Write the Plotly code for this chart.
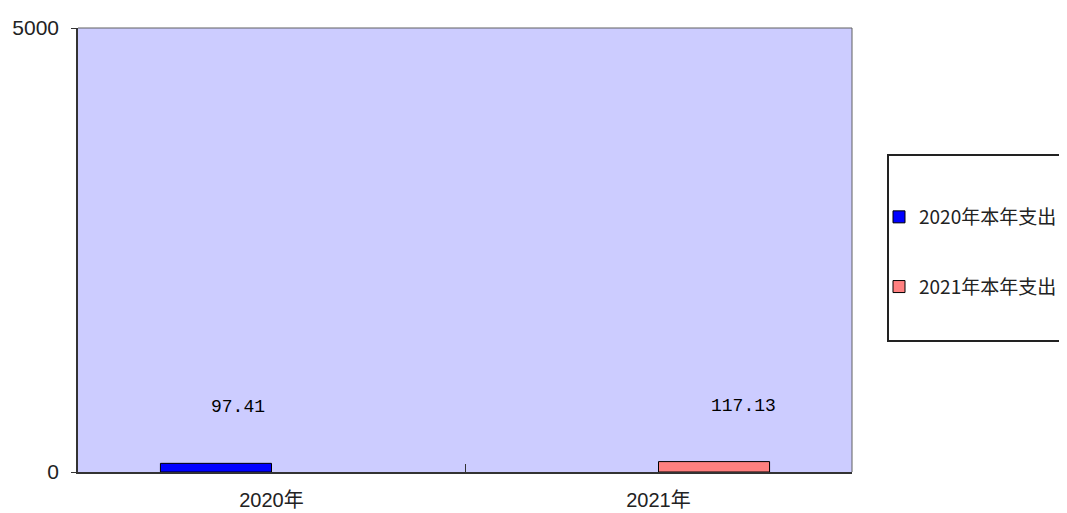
import plotly.graph_objects as go

categories = ["2020年", "2021年"]
series_names = ["2020年本年支出", "2021年本年支出"]
values_2020 = [97.41, None]
values_2021 = [None, 117.13]
label_text = ["97.41", "117.13"]
colors = ["#0000FF", "#FF8080"]

# page has an 8px body margin; compensate so the plot area sits at x 78..852, y 28..472
OFF = 8
PX0, PX1, PY0, PY1 = 78 - OFF, 852 - OFF, 28 - OFF, 472 - OFF
W, H = 1067 - OFF, 513 - OFF

fig = go.Figure()
fig.add_trace(go.Bar(x=categories, y=values_2020, name=series_names[0],
                     marker=dict(color=colors[0], line=dict(color="#000000", width=1)),
                     legendgroup="a"))
fig.add_trace(go.Bar(x=categories, y=values_2021, name=series_names[1],
                     marker=dict(color=colors[1], line=dict(color="#000000", width=1)),
                     legendgroup="b"))

shifts = [-34, 85]
vals = [values_2020[0], values_2021[1]]
for i in range(2):
    fig.add_annotation(x=categories[i], y=vals[i], text=label_text[i], showarrow=False,
                       xref="x", yref="y", xshift=shifts[i], yshift=56,
                       font=dict(family="Liberation Mono, DejaVu Sans Mono, monospace", size=18, color="#000000"))

pw = PX1 - PX0
ph = PY1 - PY0
# legend box (ref page coords x 888.., y 155..341)
fig.add_shape(type="rect", xref="paper", yref="paper",
              x0=(888 - 78) / pw, x1=(1090 - 78) / pw,
              y0=(472 - 341) / ph, y1=(472 - 155) / ph,
              line=dict(color="#222222", width=2), fillcolor="#FFFFFF", layer="below")
# plot border top/right
fig.add_shape(type="line", xref="paper", yref="paper", x0=0, x1=1, y0=1, y1=1,
              line=dict(color="#606060", width=1))
fig.add_shape(type="line", xref="paper", yref="paper", x0=1, x1=1, y0=0, y1=1,
              line=dict(color="#606060", width=1))

fig.update_layout(
    width=W, height=H,
    margin=dict(l=PX0, r=W - PX1, t=PY0, b=H - PY1, autoexpand=False),
    paper_bgcolor="#FFFFFF",
    plot_bgcolor="#CCCCFF",
    barmode="group",
    bargap=0.426,
    bargroupgap=0,
    font=dict(family="Liberation Sans, DejaVu Sans, sans-serif", size=18, color="#000000"),
    showlegend=True,
    legend=dict(xref="container", yref="container",
                x=(879 - OFF) / W, y=1 - (198 - OFF) / H, xanchor="left", yanchor="top",
                bgcolor="rgba(0,0,0,0)", borderwidth=0,
                traceorder="grouped", tracegroupgap=42,
                font=dict(family="Noto Sans CJK SC, sans-serif", size=19, color="#222222"),
                itemwidth=30),
    xaxis=dict(showline=True, linecolor="#333333", linewidth=1.5,
               ticks="inside", tickson="boundaries", ticklen=8, tickcolor="#333333",
               showgrid=False, automargin=False, ticklabelstandoff=9,
               tickfont=dict(family="Liberation Sans, Noto Sans CJK SC, sans-serif", size=20, color="#222222")),
    yaxis=dict(range=[0, 5000], tickvals=[0, 5000], ticktext=["0", "5000"],
               showline=True, linecolor="#333333", linewidth=1.5,
               ticks="outside", ticklen=5, tickcolor="#333333",
               showgrid=False, zeroline=False, automargin=False, ticklabelstandoff=8,
               tickfont=dict(family="Liberation Sans, DejaVu Sans, sans-serif", size=21, color="#222222")),
)

fig.write_html("out.html")
